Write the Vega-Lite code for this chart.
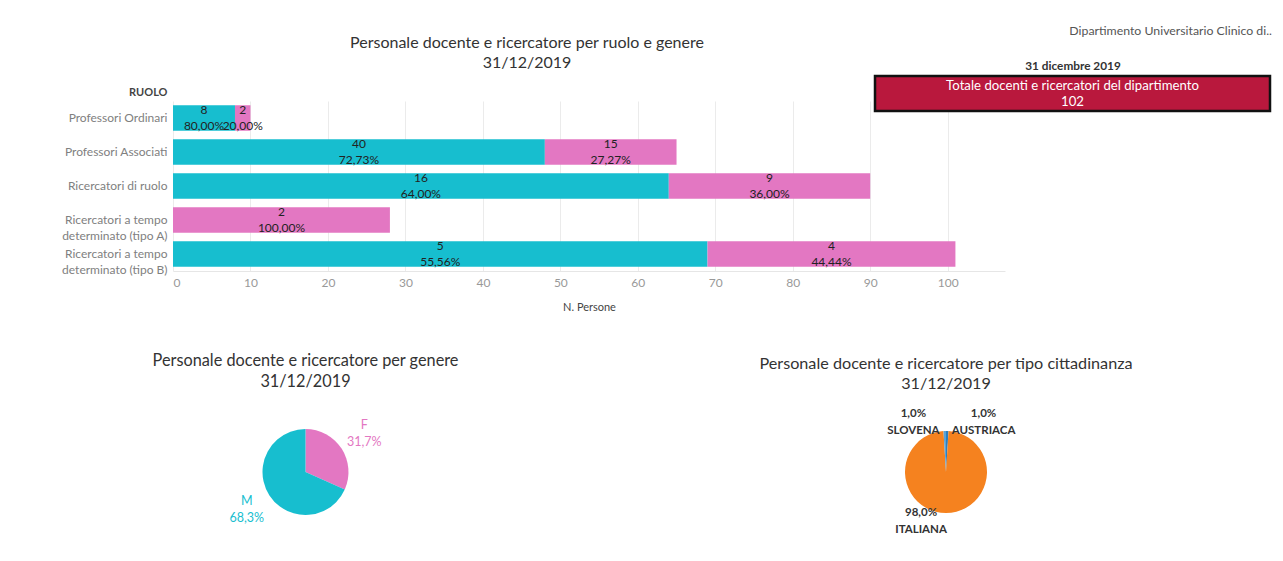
{
  "$schema": "https://vega.github.io/schema/vega-lite/v6.json",
  "background": "white",
  "padding": {"left": 61, "top": 23, "right": 5, "bottom": 5},
  "bounds": "flush",
  "columns": 2,
  "spacing": {"row": 121, "column": 0},
  "resolve": {"scale": {"color": "independent", "theta": "independent"}},
  "config": {
    "font": "Lato",
    "view": {"stroke": null},
    "locale": {"number": {"decimal": ",", "thousands": ".", "grouping": [3], "currency": ["", " €"]}},
    "title": {"font": "Lato", "fontWeight": "normal", "color": "#333333"}
  },
  "concat": [
    {
      "width": 702,
      "height": 195,
      "title": {
        "text": ["Personale docente e ricercatore per ruolo e genere", "31/12/2019"],
        "fontSize": 16,
        "lineHeight": 20,
        "dx": 3,
        "offset": 5
      },
      "data": {
        "values": [
          {"ruolo": "Professori Ordinari", "genere": "M", "persone_cumulate": 8, "n": 8, "quota": 0.8},
          {"ruolo": "Professori Ordinari", "genere": "F", "persone_cumulate": 2, "n": 2, "quota": 0.2},
          {"ruolo": "Professori Associati", "genere": "M", "persone_cumulate": 48, "n": 40, "quota": 0.7273},
          {"ruolo": "Professori Associati", "genere": "F", "persone_cumulate": 17, "n": 15, "quota": 0.2727},
          {"ruolo": "Ricercatori di ruolo", "genere": "M", "persone_cumulate": 64, "n": 16, "quota": 0.64},
          {"ruolo": "Ricercatori di ruolo", "genere": "F", "persone_cumulate": 26, "n": 9, "quota": 0.36},
          {"ruolo": "Ricercatori a tempo determinato (tipo A)", "genere": "F", "persone_cumulate": 28, "n": 2, "quota": 1.0},
          {"ruolo": "Ricercatori a tempo determinato (tipo B)", "genere": "M", "persone_cumulate": 69, "n": 5, "quota": 0.5556},
          {"ruolo": "Ricercatori a tempo determinato (tipo B)", "genere": "F", "persone_cumulate": 32, "n": 4, "quota": 0.4444}
        ]
      },
      "resolve": {"axis": {"x": "independent"}},
      "encoding": {
        "y": {
          "field": "ruolo",
          "type": "nominal",
          "sort": null,
          "scale": {"range": [25, 195], "paddingInner": 0.25, "paddingOuter": 0.125},
          "axis": {
            "title": "RUOLO",
            "titleAngle": 0,
            "titleAlign": "right",
            "titleBaseline": "middle",
            "titleX": -6,
            "titleY": 16,
            "titleFontSize": 11,
            "titleFontWeight": "bold",
            "titleColor": "#444444",
            "labelColor": "#808080",
            "labelFontSize": 12,
            "labelPadding": 6,
            "labelLimit": 250,
            "labelLineHeight": 16,
            "labelExpr": "split(replace(datum.label, ' determinato', '|determinato'), '|')",
            "ticks": false,
            "domain": false,
            "encode": {
              "labels": {
                "update": {"dy": {"signal": "indexof(datum.value, ' determinato') > 0 ? -8 : 0"}}
              }
            }
          }
        },
        "order": {"field": "genere", "sort": "descending"}
      },
      "layer": [
        {
          "mark": {"type": "bar"},
          "encoding": {
            "x": {
              "field": "persone_cumulate",
              "type": "quantitative",
              "stack": "zero",
              "scale": {"domain": [0, 107.4], "nice": false, "range": [0, 832]},
              "axis": {
                "orient": "top",
                "values": [0, 10, 20, 30, 40, 50, 60, 70, 80, 90, 100],
                "grid": true,
                "gridColor": "#ebebeb",
                "labels": false,
                "ticks": false,
                "domain": false,
                "title": null
              }
            },
            "color": {
              "field": "genere",
              "type": "nominal",
              "scale": {"domain": ["M", "F"], "range": ["#17becf", "#e377c2"]},
              "legend": null
            }
          }
        },
        {
          "mark": {"type": "text", "fontSize": 12, "color": "#222222", "dy": -8},
          "encoding": {
            "x": {
              "field": "persone_cumulate",
              "type": "quantitative",
              "stack": "zero",
              "bandPosition": 0.5,
              "axis": {
                "orient": "bottom",
                "title": "N. Persone",
                "values": [0, 10, 20, 30, 40, 50, 60, 70, 80, 90, 100],
                "grid": false,
                "domainColor": "#e6e6e6",
                "ticks": false,
                "labelColor": "#999999",
                "labelFontSize": 12,
                "labelPadding": 6,
                "titleColor": "#444444",
                "titleFontSize": 11,
                "titleFontWeight": "normal",
                "titlePadding": 13
              }
            },
            "detail": {"field": "genere"},
            "text": {"field": "n", "type": "quantitative"}
          }
        },
        {
          "mark": {"type": "text", "fontSize": 12, "color": "#222222", "dy": 8},
          "encoding": {
            "x": {"field": "persone_cumulate", "type": "quantitative", "stack": "zero", "bandPosition": 0.5, "axis": null},
            "detail": {"field": "genere"},
            "text": {"field": "quota", "type": "quantitative", "format": ".2%"}
          }
        }
      ]
    },
    {
      "width": 395,
      "height": 35,
      "view": {"fill": "#b9183d", "stroke": "#111111", "strokeWidth": 2.5},
      "title": {
        "text": "Dipartimento Universitario Clinico di..",
        "anchor": "end",
        "fontSize": 12.3,
        "color": "#555555",
        "dx": 2,
        "offset": 23
      },
      "data": {"values": [{"voce": "Totale docenti e ricercatori del dipartimento", "totale": 102}]},
      "encoding": {
        "x": {
          "field": "voce",
          "type": "nominal",
          "axis": {
            "orient": "top",
            "labels": false,
            "ticks": false,
            "domain": false,
            "grid": false,
            "title": "31 dicembre 2019",
            "titleFontSize": 11.8,
            "titleFontWeight": "bold",
            "titleColor": "#333333",
            "titlePadding": 5
          }
        }
      },
      "layer": [
        {"mark": {"type": "text", "fontSize": 13.2, "color": "white", "dy": -8}, "encoding": {"text": {"field": "voce"}}},
        {"mark": {"type": "text", "fontSize": 13.2, "color": "white", "dy": 8}, "encoding": {"text": {"field": "totale", "type": "quantitative"}}}
      ]
    },
    {
      "width": 265,
      "height": 160,
      "title": {
        "text": ["Personale docente e ricercatore per genere", "31/12/2019"],
        "fontSize": 16.3,
        "lineHeight": 21,
        "offset": 2
      },
      "data": {
        "values": [
          {"genere": "F", "persone": 32, "quota": 0.317},
          {"genere": "M", "persone": 69, "quota": 0.683}
        ]
      },
      "encoding": {
        "theta": {"field": "persone", "type": "quantitative", "stack": true},
        "order": {"field": "genere", "sort": "ascending"},
        "color": {
          "field": "genere",
          "type": "nominal",
          "scale": {"domain": ["M", "F"], "range": ["#17becf", "#e377c2"]},
          "legend": null
        }
      },
      "layer": [
        {"mark": {"type": "arc", "outerRadius": 43}},
        {"mark": {"type": "text", "radius": 70, "dy": -9, "fontSize": 12.5}, "encoding": {"text": {"field": "genere"}}},
        {"mark": {"type": "text", "radius": 70, "dy": 8, "fontSize": 12.5}, "encoding": {"text": {"field": "quota", "type": "quantitative", "format": ".1%"}}}
      ]
    },
    {
      "width": 142,
      "height": 160,
      "title": {
        "text": ["Personale docente e ricercatore per tipo cittadinanza", "31/12/2019"],
        "fontSize": 16.2,
        "lineHeight": 20,
        "offset": 0
      },
      "data": {
        "values": [
          {"cittadinanza": "AUSTRIACA", "persone": 1, "quota": 0.0098},
          {"cittadinanza": "ITALIANA", "persone": 100, "quota": 0.9804},
          {"cittadinanza": "SLOVENA", "persone": 1, "quota": 0.0098}
        ]
      },
      "encoding": {
        "theta": {"field": "persone", "type": "quantitative", "stack": true},
        "order": {"field": "cittadinanza", "sort": "ascending"}
      },
      "layer": [
        {
          "mark": {"type": "arc", "outerRadius": 41},
          "encoding": {
            "color": {
              "field": "cittadinanza",
              "type": "nominal",
              "scale": {"domain": ["AUSTRIACA", "ITALIANA", "SLOVENA"], "range": ["#2b7fbf", "#f5821f", "#5aa3d8"]},
              "legend": null
            }
          }
        },
        {
          "transform": [{"filter": "datum.cittadinanza != 'AUSTRIACA'"}],
          "mark": {"type": "text", "radius": 50, "dy": -8.5, "dx": -28, "fontSize": 11.5, "fontWeight": "bold", "color": "#333333"},
          "encoding": {"text": {"field": "quota", "type": "quantitative", "format": ".1%"}}
        },
        {
          "transform": [{"filter": "datum.cittadinanza != 'AUSTRIACA'"}],
          "mark": {"type": "text", "radius": 50, "dy": 8.5, "dx": -28, "fontSize": 11.5, "fontWeight": "bold", "color": "#333333"},
          "encoding": {"text": {"field": "cittadinanza"}}
        },
        {
          "transform": [{"filter": "datum.cittadinanza == 'AUSTRIACA'"}],
          "mark": {"type": "text", "radius": 50, "dy": -8.5, "dx": 36, "fontSize": 11.5, "fontWeight": "bold", "color": "#333333"},
          "encoding": {"text": {"field": "quota", "type": "quantitative", "format": ".1%"}}
        },
        {
          "transform": [{"filter": "datum.cittadinanza == 'AUSTRIACA'"}],
          "mark": {"type": "text", "radius": 50, "dy": 8.5, "dx": 36, "fontSize": 11.5, "fontWeight": "bold", "color": "#333333"},
          "encoding": {"text": {"field": "cittadinanza"}}
        }
      ]
    }
  ]
}
